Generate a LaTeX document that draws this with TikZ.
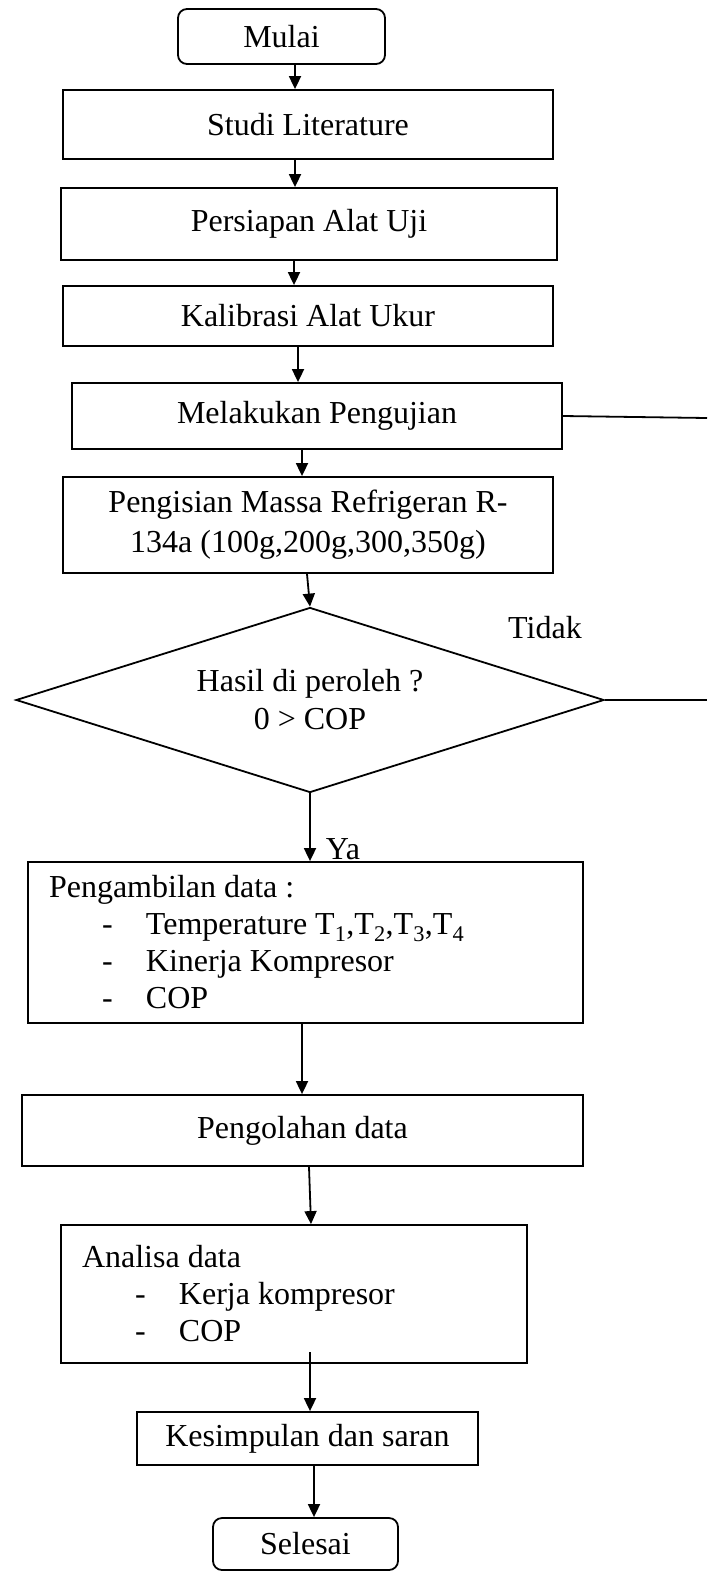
\documentclass[tikz,border=0pt]{standalone}
\usepackage{fontspec}
\setmainfont{Liberation Serif}
\usetikzlibrary{shapes.geometric,arrows.meta}

\newcommand{\butir}{\hspace*{53pt}\makebox[44pt][l]{-}}

\begin{document}
\begin{tikzpicture}[x=1pt, y=1pt,
    every node/.style ={font=\fontsize{32}{37}\selectfont},
    proses/.style ={rectangle, draw, line width=1.8pt, inner sep=0pt},
    terminal/.style ={rectangle, rounded corners=9pt, draw, line width=1.8pt, inner sep=0pt},
    keputusan/.style ={diamond, draw, line width=1.8pt, inner sep=0pt, shape aspect=3.2},
    daftar/.style ={rectangle, draw, line width=1.8pt, inner xsep=21pt, inner ysep=0pt, align=flush left},
    panah/.style ={line width=1.8pt, -{Triangle[length=13pt, width=12pt]}},
    garis/.style ={line width=1.8pt}]
   \useasboundingbox (0,0) rectangle (707,-1571);

   \node[terminal, minimum width=207pt, minimum height=55pt] (mulai) at (281.5,-36.5) {Mulai};
   \node[proses, minimum width=490pt, minimum height=69pt] (studi) at (308,-124.5) {Studi Literature};
   \node[proses, minimum width=496pt, minimum height=72pt] (persiapan) at (309,-224) {Persiapan Alat Uji};
   \node[proses, minimum width=490pt, minimum height=60pt] (kalibrasi) at (308,-316) {Kalibrasi Alat Ukur};
   \node[proses, minimum width=490pt, minimum height=66pt] (melakukan) at (317,-416) {Melakukan Pengujian};
   \node[proses, minimum width=490pt, minimum height=96pt, align=center] (pengisian) at (308,-525)
      {Pengisian Massa Refrigeran R-\\[3pt]134a (100g,200g,300,350g)};
   \node[keputusan, minimum width=588pt, minimum height=185pt, align=center] (cek) at (310,-700)
      {Hasil di peroleh ?\\[1pt]0 > COP};
   \node (tidak) at (545,-628) {Tidak};
   \node (ya) at (343,-849) {Ya};
   \node[daftar, minimum width=555pt, minimum height=161pt, text width=513pt] (ambil) at (305.5,-942.5)
      {Pengambilan data :\\
       \butir Temperature T\textsubscript{1},T\textsubscript{2},T\textsubscript{3},T\textsubscript{4}\\
       \butir Kinerja Kompresor\\
       \butir COP};
   \node[proses, minimum width=561pt, minimum height=71pt] (olah) at (302.5,-1130.5) {Pengolahan data};
   \node[daftar, minimum width=466pt, minimum height=138pt, text width=424pt] (analisa) at (294,-1294)
      {Analisa data\\
       \butir Kerja kompresor\\
       \butir COP};
   \node[proses, minimum width=341pt, minimum height=53pt] (simpul) at (307.5,-1438.5) {Kesimpulan dan saran};
   \node[terminal, minimum width=185pt, minimum height=52pt] (selesai) at (305.5,-1544) {Selesai};

   \coordinate (ujungA) at (707,-418);
   \coordinate (ujungB) at (707,-700);
   \coordinate (analisaBawah) at (310,-1352);

   \draw[panah] (295,0 |- mulai.south) -- (295,0 |- studi.north);
   \draw[panah] (295,0 |- studi.south) -- (295,0 |- persiapan.north);
   \draw[panah] (294,0 |- persiapan.south) -- (294,0 |- kalibrasi.north);
   \draw[panah] (298,0 |- kalibrasi.south) -- (298,0 |- melakukan.north);
   \draw[panah] (302,0 |- melakukan.south) -- (302,0 |- pengisian.north);
   \draw[panah] (307,0 |- pengisian.south) -- (cek.north);
   \draw[panah] (cek.south) -- (cek.south |- ambil.north);
   \draw[panah] (302,0 |- ambil.south) -- (302,0 |- olah.north);
   \draw[panah] (309,0 |- olah.south) -- (311,0 |- analisa.north);
   \draw[panah] (analisaBawah) -- (310,0 |- simpul.north);
   \draw[panah] (314,0 |- simpul.south) -- (314,0 |- selesai.north);
   \draw[garis] (melakukan.east) -- (ujungA);
   \draw[garis] (cek.east) -- (ujungB);

 \end{tikzpicture}
\end{document}
